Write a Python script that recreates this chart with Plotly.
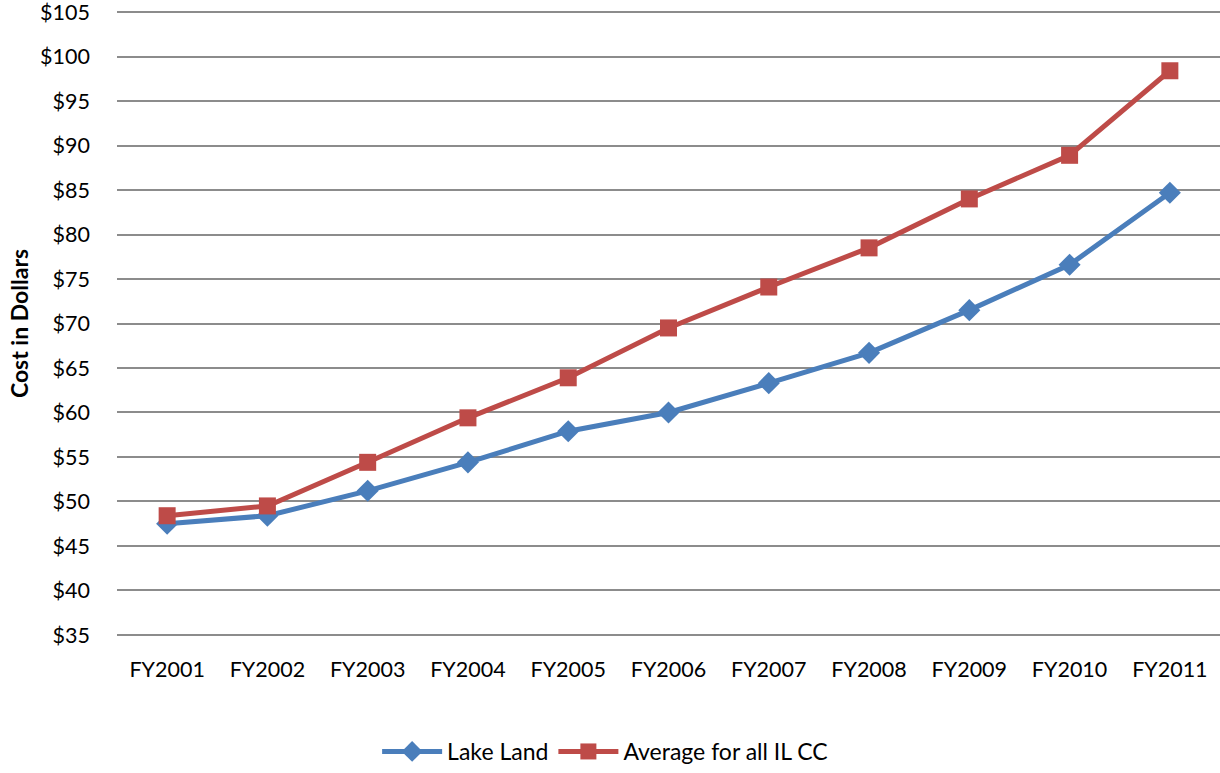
import plotly.graph_objects as go

years = ["FY2001", "FY2002", "FY2003", "FY2004", "FY2005", "FY2006",
         "FY2007", "FY2008", "FY2009", "FY2010", "FY2011"]
lake_land = [47.5, 48.4, 51.2, 54.4, 57.9, 60.0, 63.3, 66.7, 71.5, 76.6, 84.7]
il_cc_avg = [48.4, 49.5, 54.4, 59.4, 63.9, 69.5, 74.1, 78.5, 84.0, 88.9, 98.4]
y_ticks = list(range(35, 106, 5))

FONT = "Lato, Carlito, Calibri, sans-serif"

fig = go.Figure()
fig.add_trace(go.Scatter(
    x=years, y=lake_land, name="Lake Land",
    mode="lines+markers",
    line=dict(color="#4a7ebb", width=5),
    marker=dict(symbol="diamond", size=17, color="#4a7ebb"),
))
fig.add_trace(go.Scatter(
    x=years, y=il_cc_avg, name="Average for all IL CC",
    mode="lines+markers",
    line=dict(color="#be4b48", width=5),
    marker=dict(symbol="square", size=17, color="#be4b48"),
))

fig.update_layout(
    width=1220, height=773,
    margin=dict(l=117, r=0, t=9, b=135),
    plot_bgcolor="white", paper_bgcolor="white",
    font=dict(family=FONT, size=21.5, color="black"),
    showlegend=True,
    legend=dict(orientation="h", xref="container", x=0.496, xanchor="center",
                yref="container", y=0.0, yanchor="bottom",
                font=dict(size=23), itemwidth=60),
    xaxis=dict(type="category", range=[-0.5, 10.5], showgrid=False,
               showline=False, ticks="", ticklabelstandoff=16),
    # a little padding so the $35 / $105 gridlines are not dropped at the edges
    yaxis=dict(range=[34.66, 105.34], tickvals=y_ticks,
               ticktext=[f"${v}" for v in y_ticks],
               ticklabeloverflow="allow",
               showgrid=True, gridcolor="#8c8c8c", gridwidth=1.5,
               zeroline=False, showline=False, ticks="",
               ticklabelstandoff=26,
               title=dict(text="<b>Cost in Dollars</b>", font=dict(size=23),
                          standoff=5)),
)

# drop the default 8px body margin so the figure fills the window
fig.write_html("out.html", config={"displayModeBar": False},
               post_script="document.body.style.margin='0';")
